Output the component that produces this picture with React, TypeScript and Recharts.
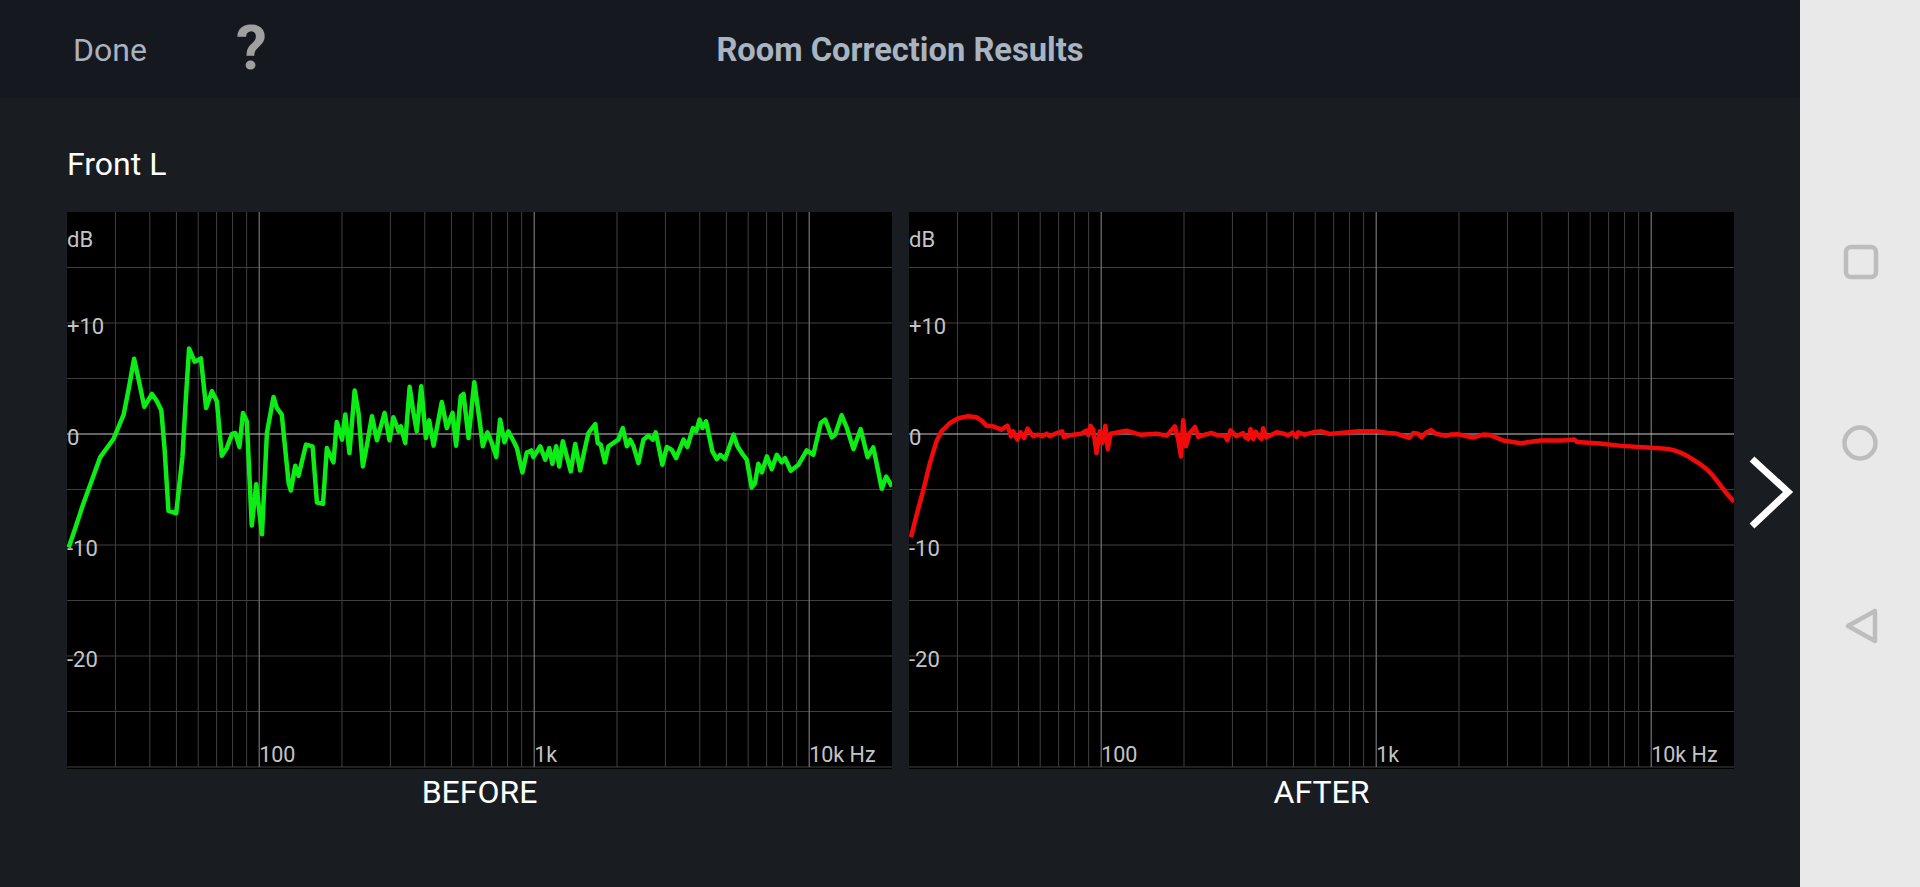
import { CartesianGrid, Line, LineChart, ReferenceLine, XAxis, YAxis } from "recharts";

const beforeLogHz = [
  1.307, 1.331, 1.361, 1.392, 1.422, 1.47, 1.507, 1.525, 1.545, 1.564, 1.582, 1.61, 1.628, 1.644, 1.656, 1.67, 1.698,
  1.721, 1.733, 1.745, 1.765, 1.788, 1.807, 1.828, 1.846, 1.864, 1.882, 1.901, 1.913, 1.928, 1.941, 1.955, 1.973, 1.989,
  2.01, 2.028, 2.052, 2.064, 2.082, 2.107, 2.115, 2.131, 2.143, 2.17, 2.194, 2.21, 2.232, 2.246, 2.27, 2.282, 2.301,
  2.313, 2.328, 2.347, 2.361, 2.377, 2.392, 2.41, 2.428, 2.456, 2.474, 2.488, 2.507, 2.515, 2.531, 2.547, 2.561, 2.573,
  2.589, 2.606, 2.618, 2.634, 2.664, 2.682, 2.703, 2.716, 2.733, 2.743, 2.761, 2.782, 2.801, 2.813, 2.83, 2.846, 2.862,
  2.876, 2.892, 2.906, 2.925, 2.937, 2.957, 2.973, 2.989, 2.997, 3.022, 3.04, 3.055, 3.066, 3.08, 3.091, 3.104, 3.133,
  3.149, 3.167, 3.182, 3.197, 3.222, 3.231, 3.242, 3.257, 3.27, 3.288, 3.306, 3.322, 3.337, 3.349, 3.361, 3.379, 3.397,
  3.415, 3.431, 3.442, 3.466, 3.482, 3.5, 3.516, 3.543, 3.557, 3.577, 3.589, 3.601, 3.612, 3.625, 3.648, 3.664, 3.676,
  3.694, 3.725, 3.739, 3.755, 3.773, 3.791, 3.803, 3.815, 3.828, 3.846, 3.864, 3.882, 3.9, 3.912, 3.933, 3.961, 3.991,
  4.015, 4.042, 4.058, 4.082, 4.094, 4.118, 4.137, 4.161, 4.187, 4.212, 4.233, 4.264, 4.28, 4.301,
];
const beforeDb = [
  -10.24, -8.49, -6.23, -4.13, -2.08, -0.45, 1.75, 4.01, 6.78, 4.61, 2.44, 3.61, 2.95, 2.14, -1.42, -6.93, -7.14,
  -2.02, 3.1, 7.71, 6.51, 6.81, 2.35, 3.86, 2.95, -1.96, -1.27, 0, 0.09, -1.17, 1.9, 1.14, -8.25, -4.52,
  -9.04, 0.09, 3.34, 2.35, 1.75, -4.43, -5.09, -2.86, -3.77, -0.96, -1.11, -6.17, -6.3, -1.27, -2.56, 1.08, -0.51,
  1.75, -1.72, 3.92, 1.9, -2.92, -0.96, 1.6, -0.57, 1.9, -0.57, 1.51, 0.24, 0.69, -0.81, 4.25, 1.9, 0.24,
  4.31, -0.36, 1.23, -1.05, 2.89, 0.54, 1.9, -1.05, 3.4, 3.61, -0.36, 4.67, 1.3, -1.11, 0.15, -0.81, -2.08,
  1.3, -0.75, 0.24, -0.66, -1.27, -3.46, -1.66, -1.48, -2.08, -1.11, -2.32, -1.27, -2.68, -1.11, -2.92, -0.66, -3.37,
  -0.9, -3.28, -1.57, 0.09, 0.9, -0.81, -0.96, -2.56, -1.11, -0.81, -0.51, 0.54, -1.11, -0.51, -1.11, -2.62, -0.51,
  -0.15, -0.51, 0.15, -2.77, -1.17, -1.42, -2.17, -0.51, -1.17, 0.54, 0.24, 1.3, 0.54, 1.14, -1.57, -2.26, -1.87,
  -2.26, -0.06, -1.11, -1.72, -2.32, -4.82, -4.43, -2.68, -3.46, -2.02, -3.16, -1.87, -2.56, -2.17, -3.31, -2.77, -1.48,
  -1.87, 0.99, 1.3, -0.3, -0.06, 1.69, 0.54, -1.36, 0.45, -2.08, -1.2, -4.94, -3.83, -4.73,
];

const afterLogHz = [
  1.308, 1.328, 1.353, 1.377, 1.401, 1.419, 1.45, 1.48, 1.516, 1.546, 1.564, 1.583,
  1.607, 1.637, 1.659, 1.672, 1.68, 1.695, 1.707, 1.72, 1.732, 1.753, 1.77, 1.785,
  1.802, 1.813, 1.835, 1.858, 1.864, 1.898, 1.928, 1.945, 1.953, 1.961, 1.971, 1.983,
  1.995, 2.004, 2.015, 2.024, 2.034, 2.092, 2.141, 2.201, 2.238, 2.268, 2.28, 2.29,
  2.298, 2.308, 2.322, 2.341, 2.353, 2.377, 2.4, 2.425, 2.45, 2.459, 2.47, 2.492,
  2.516, 2.524, 2.535, 2.543, 2.553, 2.562, 2.571, 2.583, 2.589, 2.6, 2.613, 2.638,
  2.66, 2.68, 2.695, 2.71, 2.716, 2.74, 2.77, 2.801, 2.83, 2.869, 2.937, 3.0,
  3.044, 3.07, 3.098, 3.12, 3.135, 3.152, 3.165, 3.18, 3.199, 3.215, 3.253, 3.27,
  3.3, 3.33, 3.354, 3.39, 3.415, 3.462, 3.525, 3.596, 3.677, 3.72, 3.731, 3.812,
  3.892, 4.0, 4.061, 4.081, 4.108, 4.135, 4.161, 4.182, 4.202, 4.222, 4.242, 4.26,
  4.276, 4.301,
];
const afterDb = [
  -9.31, -7.35, -5.06, -2.62, -0.66, 0.24, 0.99, 1.42, 1.6, 1.51, 1.23, 0.75,
  0.69, 0.39, 0.75, -0.21, 0.24, -0.51, 0.15, -0.36, 0.48, -0.21, -0.06, -0.2,
  0.03, -0.21, 0.05, 0.24, -0.27, -0.06, 0.03, 0.3, -0.1, 0.75, 0.39, -1.72,
  0.24, -0.81, 0.75, -1.36, 0.03, 0.3, -0.06, 0.03, -0.15, 0.69, -0.51, -2.02,
  1.23, -1.11, 0.09, 0.63, -0.27, -0.06, 0.09, -0.12, -0.15, -0.57, 0.33, -0.21,
  0.09, -0.3, -0.45, 0.45, -0.45, 0.2, -0.15, -0.45, 0.51, -0.3, -0.15, 0.15,
  0.05, -0.12, 0.12, -0.27, 0.15, -0.06, 0.15, 0.24, 0, 0.1, 0.24, 0.24,
  0.1, 0.05, -0.17, -0.35, 0.1, 0.03, -0.3, 0.1, 0.35, 0.05, -0.17, -0.05,
  -0.03, -0.2, -0.31, -0.05, -0.1, -0.59, -0.83, -0.59, -0.59, -0.5, -0.72, -0.86,
  -1.07, -1.24, -1.34, -1.45, -1.69, -2.03, -2.45, -2.79, -3.17, -3.69, -4.31, -4.9,
  -5.41, -6.1,
];

const minorHz = [
  30, 40, 50, 60, 70, 80, 90, 200, 300, 400, 500, 600, 700, 800, 900, 2000, 3000, 4000, 5000, 6000, 7000, 8000, 9000,
];
const decadeHz = [100, 1000, 10000];
const decadeLabels = ["100", "1k", "10k Hz"];
const dbGrid = [-30, -25, -20, -15, -10, -5, 5, 10, 15];
const dbTicks = [-20, -10, 0, 10];

const toRows = (logHz: number[], db: number[]) => logHz.map((x, i) => ({ hz: 10 ** x, db: db[i] }));

const font = "Roboto, sans-serif";

function XTick({ x, y, payload }: any) {
  const i = decadeHz.indexOf(payload.value);
  return (
    <text x={x} y={y + 3} fill="#c4c4c4" fontSize={21.5} fontFamily={font} textAnchor="start">
      {decadeLabels[i]}
    </text>
  );
}

function YTick({ y, payload }: any) {
  const v = payload.value;
  return (
    <text x={0} y={y + 11} fill="#c4c4c4" fontSize={22} fontFamily={font} textAnchor="start">
      {v > 0 ? `+${v}` : v}
    </text>
  );
}

function ResponseChart({ left, rows, color, label }: { left: number; rows: any[]; color: string; label: string }) {
  return (
    <>
      <div style={{ position: "absolute", left, top: 212 }}>
        <LineChart width={825} height={557} data={rows} margin={{ top: 0, right: 0, bottom: 2, left: 0 }} style={{ background: "#000" }}>
          <CartesianGrid
            stroke="#404040"
            strokeWidth={1}
            verticalValues={minorHz}
            horizontalValues={dbGrid}
          />
          <XAxis
            dataKey="hz"
            type="number"
            scale="log"
            domain={[20, 20000]}
            ticks={decadeHz}
            interval={0}
            mirror
            height={1}
            axisLine={false}
            tickLine={false}
            tick={XTick}
          />
          <YAxis
            type="number"
            domain={[-30, 20]}
            ticks={dbTicks}
            interval={0}
            mirror
            width={1}
            axisLine={false}
            tickLine={false}
            tick={YTick}
          />
          {decadeHz.map((hz) => (
            <ReferenceLine key={hz} x={hz} stroke="#747474" strokeWidth={1.2} />
          ))}
          <ReferenceLine y={0} stroke="#c8c8c8" strokeWidth={1.2} />
          <Line
            type="linear"
            dataKey="db"
            stroke={color}
            strokeWidth={4.5}
            strokeLinejoin="round"
            dot={false}
            isAnimationActive={false}
          />
        </LineChart>
        <div style={{ position: "absolute", left: 0, top: 16, color: "#c4c4c4", fontSize: 22, fontFamily: font, lineHeight: "24px" }}>dB</div>
      </div>
      <div
        style={{
          position: "absolute",
          left,
          width: 825,
          top: 772,
          textAlign: "center",
          color: "#fff",
          fontSize: 32,
          fontFamily: font,
          lineHeight: "40px",
        }}
      >
        {label}
      </div>
    </>
  );
}

export default function App() {
  return (
    <div style={{ position: "absolute", left: 0, top: 0, width: 1920, height: 887, background: "#191d22", overflow: "hidden" }}>
      <div style={{ position: "absolute", left: 0, top: 0, width: 1800, height: 98, background: "#15191f" }} />
      <div style={{ position: "absolute", left: 73, top: 30, color: "#a9b2bf", fontSize: 32, fontFamily: font, lineHeight: "40px" }}>Done</div>
      <div style={{ position: "absolute", left: 236, top: 12, color: "#a0a0a0", fontSize: 62, fontWeight: 700, fontFamily: font, lineHeight: "72px" }}>?</div>
      <div style={{ position: "absolute", left: 0, width: 1800, top: 30, textAlign: "center", color: "#a9b4c0", fontSize: 32.7, fontWeight: 700, fontFamily: font, lineHeight: "40px" }}>
        Room Correction Results
      </div>
      <div style={{ position: "absolute", left: 67, top: 144, color: "#fff", fontSize: 32, fontFamily: font, lineHeight: "40px" }}>Front L</div>

      <ResponseChart left={67} rows={toRows(beforeLogHz, beforeDb)} color="#0ced16" label="BEFORE" />
      <ResponseChart left={909} rows={toRows(afterLogHz, afterDb)} color="#f00a0a" label="AFTER" />

      {/* next-page chevron and the phone's nav bar */}
      <svg width={1920} height={887} style={{ position: "absolute", left: 0, top: 0, pointerEvents: "none" }}>
        <polyline points="1752,459 1788,492 1752,526" fill="none" stroke="#fff" strokeWidth={7} />
        <rect x={1800} y={0} width={120} height={887} fill="#e9e9e9" />
        <rect x={1846} y={247} width={30} height={30} rx={5} fill="none" stroke="#bdbdbd" strokeWidth={4.5} />
        <circle cx={1860} cy={443} r={15.5} fill="none" stroke="#bdbdbd" strokeWidth={4.5} />
        <polygon points="1848,626 1875,611 1875,641" fill="none" stroke="#bdbdbd" strokeWidth={4.5} strokeLinejoin="round" />
      </svg>
    </div>
  );
}
